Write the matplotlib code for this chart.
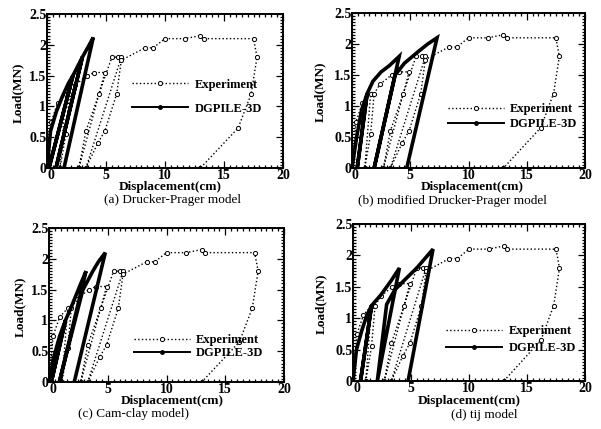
import matplotlib
matplotlib.use('Agg')
import matplotlib.pyplot as plt
from matplotlib.lines import Line2D
from matplotlib.ticker import AutoMinorLocator

plt.rcParams['font.family'] = ['Liberation Serif', 'DejaVu Serif']

# Experiment (same load test in all four panels)
exp_x = [0, 0.35, 0.9, 1.6, 1.1, 1.6, 1.9, 2.4, 3.4, 4.0, 4.9, 2.7, 3.3, 4.4, 5.5,
         6.0, 6.3, 3.3, 4.3, 4.9, 5.9, 6.3, 8.3, 9.0, 10.0, 11.7, 13.0, 13.3,
         17.5, 17.8, 17.3, 16.2, 13.0]
exp_y = [0, 0.75, 1.05, 1.2, 0, 0.55, 1.2, 1.35, 1.5, 1.55, 1.55, 0, 0.6, 1.2, 1.8,
         1.8, 1.8, 0, 0.4, 0.6, 1.2, 1.75, 1.95, 1.95, 2.1, 2.1, 2.15, 2.1,
         2.1, 1.8, 1.2, 0.65, 0]

# DGPILE-3D results for each constitutive model
dg_a_x = [0, 0.3, 0.8, 1.3, 1.8, 2.2, 0.17, 2.2, 2.57, 3.0, 0.76, 3.0, 3.5, 3.92, 1.44]
dg_a_y = [0, 0.6, 0.92, 1.16, 1.37, 1.5, 0, 1.5, 1.64, 1.8, 0, 1.8, 1.97, 2.12, 0]

dg_b_x = [0, 0.4, 0.83, 1.3, 0.45, 1.3, 1.8, 2.5, 3.2, 4.05, 1.9, 3.7, 4.5, 5.7, 6.5, 7.3, 4.7]
dg_b_y = [0, 0.5, 0.94, 1.2, 0, 1.2, 1.4, 1.55, 1.65, 1.8, 0, 1.5, 1.69, 1.88, 2.0, 2.1, 0]

dg_c_x = [0, 0.4, 0.9, 1.4, 0.2, 1.4, 1.9, 2.6, 3.15, 0.88, 2.87, 3.7, 4.2, 4.79, 2.15]
dg_c_y = [0, 0.4, 0.74, 1.0, 0, 1.0, 1.22, 1.55, 1.8, 0, 1.49, 1.79, 1.95, 2.1, 0]

dg_d_x = [0, 0.3, 0.75, 1.2, 1.6, 0.65, 1.6, 2.4, 3.3, 4.0, 2.1, 2.9, 3.6, 4.4, 5.5, 6.9, 4.75]
dg_d_y = [0, 0.5, 0.8, 1.05, 1.2, 0, 1.2, 1.37, 1.6, 1.8, 0, 1.22, 1.45, 1.6, 1.8, 2.1, 0]

captions = ['(a) Drucker-Prager model', '(b) modified Drucker-Prager model',
            '(c) Cam-clay model)', '(d) tij model']

W, H = 601, 429
fig = plt.figure(figsize=(W / 100, H / 100), dpi=100)

# axes boxes in pixels: left, top, right, bottom
boxes = [(47, 14, 283, 168), (352, 13, 585, 168), (49, 228, 284, 382), (353, 224, 585, 381)]
# legend anchor (axes fraction) and row spacing
leg_pos = [(0.36, 0.58, 0.95), (0.41, 0.42, 0.25), (0.36, 0.31, 0.08), (0.40, 0.355, 0.4)]
# caption centre, x-label centre, y-label centre in pixels
cap_pos = [(172, 200), (452, 201), (134, 414), (484, 415)]
xlab_pos = [(170, 187), (472, 187), (172, 401), (469, 401)]
ylab_pos = [(18, 93), (320, 92), (20, 307), (321, 304)]

dg_all = [(dg_a_x, dg_a_y), (dg_b_x, dg_b_y), (dg_c_x, dg_c_y), (dg_d_x, dg_d_y)]

for i in range(4):
    l, t, r, b = boxes[i]
    ax = fig.add_axes([l / W, 1 - b / H, (r - l) / W, (b - t) / H])

    # experiment: dotted line with open circles
    ax.plot(exp_x, exp_y, linestyle=':', color='k', lw=1.0, marker='o', ms=3,
            mfc='white', mec='k', mew=0.7)
    # numerical: thick solid line
    dx, dy = dg_all[i]
    ax.plot(dx, dy, '-', color='k', lw=2.6, solid_joinstyle='miter')

    ax.set_xlim(0, 20)
    ax.set_ylim(0, 2.5)
    ax.xaxis.set_minor_locator(AutoMinorLocator(10))
    ax.yaxis.set_minor_locator(AutoMinorLocator(10))
    ax.tick_params(which='both', direction='in', top=True, right=True, width=0.9)
    ax.tick_params(which='major', length=5, labelsize=10, pad=0.5)
    ax.tick_params(which='minor', length=2.5)
    ax.set_xticks([0, 5, 10, 15, 20])
    ax.set_xticklabels(['0', '5', '10', '15', '20'], fontweight='bold')
    ax.get_xticklabels()[0].set_horizontalalignment('left')  # keep "0" clear of the y "0"
    ax.set_yticks([0, 0.5, 1, 1.5, 2, 2.5])
    ax.set_yticklabels(['0', '0.5', '1', '1.5', '2', '2.5'], fontweight='bold')
    for s in ax.spines.values():
        s.set_linewidth(1.4)

    # legend
    h_exp = Line2D([], [], linestyle=':', color='k', lw=1.0, marker='o', ms=3,
                   mfc='white', mec='k', mew=0.7)
    h_dg = Line2D([], [], linestyle='-', color='k', lw=1.4, marker='o', ms=2.5)
    lx, ly, sp = leg_pos[i]
    ax.legend([h_exp, h_dg], ['Experiment', 'DGPILE-3D'], loc='upper left',
              bbox_to_anchor=(lx, ly), frameon=False, numpoints=1,
              handlelength=4.5, handletextpad=0.5, borderpad=0, borderaxespad=0,
              labelspacing=sp, prop={'size': 9, 'weight': 'bold'})

    yx, yy = ylab_pos[i]
    fig.text(yx / W, 1 - yy / H, 'Load(MN)', rotation=90, ha='center', va='center',
             fontsize=9.5, fontweight='bold')
    xx, xy = xlab_pos[i]
    fig.text(xx / W, 1 - xy / H, 'Displacement(cm)', ha='center', va='center',
             fontsize=9.5, fontweight='bold')
    cx, cy = cap_pos[i]
    fig.text(cx / W, 1 - cy / H, captions[i], ha='center', va='center', fontsize=9.5)

plt.savefig('out.png', dpi=100)
